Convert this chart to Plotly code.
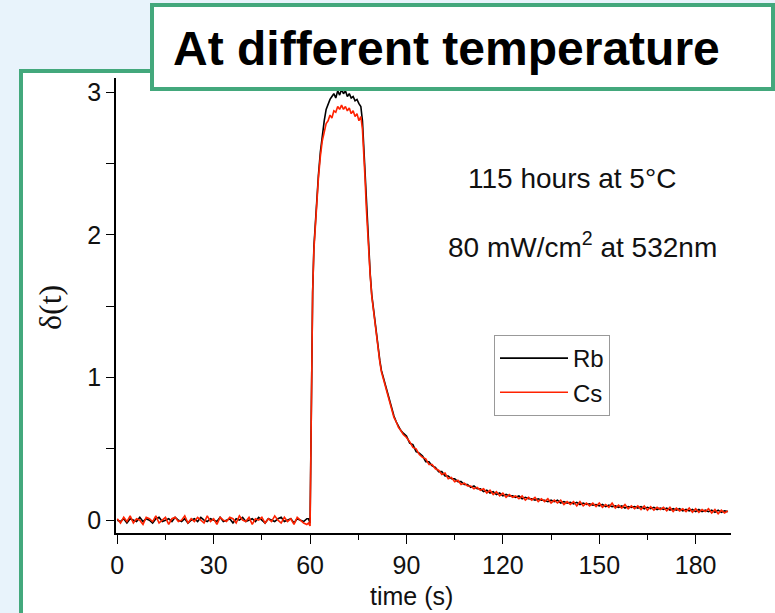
import plotly.graph_objects as go

# ---------------- data ----------------
T_BASE = list(range(0, 60))
RB_BASE = [0.00, -0.01, 0.01, -0.02, 0.01, 0.00, -0.01, 0.02, -0.01, 0.01,
           0.00, -0.02, 0.01, 0.02, -0.01, 0.00, 0.01, -0.01, 0.02, 0.00,
           -0.01, 0.01, -0.02, 0.00, 0.01, -0.01, 0.02, 0.00, -0.01, 0.01,
           0.00, -0.01, 0.02, -0.01, 0.00, 0.01, -0.02, 0.01, 0.00, 0.02,
           -0.01, 0.00, 0.01, -0.01, 0.02, 0.00, -0.02, 0.01, 0.00, -0.01,
           0.01, 0.02, -0.01, 0.00, 0.01, -0.02, 0.01, 0.00, -0.01, 0.01]
CS_BASE = [0.01, -0.02, 0.02, -0.01, 0.03, -0.02, 0.01, 0.00, -0.03, 0.02,
           0.01, -0.01, 0.03, -0.02, 0.00, 0.02, -0.03, 0.01, 0.02, -0.01,
           0.00, 0.03, -0.02, 0.01, -0.01, 0.02, 0.00, -0.02, 0.03, -0.01,
           0.01, -0.03, 0.02, 0.00, -0.01, 0.02, 0.01, -0.02, 0.03, 0.00,
           -0.01, 0.02, -0.03, 0.01, 0.00, 0.02, -0.02, 0.01, -0.01, 0.03,
           0.00, -0.02, 0.02, -0.01, 0.01, -0.03, 0.02, 0.00, -0.02, -0.03]

T_MID = [59.5, 60.0, 60.2, 60.5, 60.8, 61.2, 61.6, 62.0, 62.6, 63.2,
         63.8, 64.4, 65.0, 65.6, 66.2, 66.8, 67.4, 68.0, 68.6, 69.2,
         69.8, 70.4, 71.0, 71.6, 72.2, 72.8, 73.4, 74.0, 74.6, 75.2,
         75.8, 76.3, 76.7, 77.1, 77.5, 77.9, 78.3, 78.7, 79.2, 79.7,
         80.2, 80.7, 81.2, 81.7, 82.2, 82.8, 83.4, 84.0, 84.7, 85.4,
         86.1, 86.8, 87.5, 88.2, 89.0]
RB_MID = [0.01, -0.02, 0.40, 1.20, 1.60, 1.92, 2.08, 2.20, 2.42, 2.58,
          2.70, 2.80, 2.88, 2.92, 2.95, 2.97, 2.99, 2.96, 3.01, 2.98,
          3.02, 2.99, 3.01, 2.97, 2.99, 2.96, 2.97, 2.94, 2.95, 2.92,
          2.90, 2.80, 2.62, 2.40, 2.20, 2.02, 1.87, 1.73, 1.58, 1.48,
          1.38, 1.29, 1.20, 1.12, 1.05, 1.00, 0.95, 0.90, 0.84, 0.78,
          0.73, 0.69, 0.66, 0.63, 0.61]
CS_MID = [-0.02, -0.04, 0.40, 1.20, 1.60, 1.90, 2.06, 2.20, 2.40, 2.55,
          2.66, 2.72, 2.78, 2.80, 2.84, 2.82, 2.87, 2.86, 2.90, 2.88,
          2.91, 2.88, 2.90, 2.87, 2.89, 2.85, 2.87, 2.83, 2.85, 2.80,
          2.83, 2.74, 2.60, 2.40, 2.19, 2.00, 1.86, 1.72, 1.57, 1.47,
          1.37, 1.28, 1.19, 1.11, 1.04, 0.99, 0.94, 0.89, 0.83, 0.77,
          0.72, 0.69, 0.65, 0.63, 0.60]

T_TAIL = list(range(90, 191))
RB_TAIL = [0.59, 0.54, 0.53, 0.48, 0.47, 0.45, 0.41, 0.41, 0.38, 0.37,
           0.34, 0.34, 0.31, 0.31, 0.29, 0.29, 0.27, 0.27, 0.25, 0.25,
           0.23, 0.24, 0.22, 0.22, 0.20, 0.21, 0.19, 0.20, 0.18, 0.19,
           0.17, 0.18, 0.17, 0.17, 0.16, 0.17, 0.15, 0.16, 0.15, 0.15,
           0.14, 0.15, 0.14, 0.14, 0.13, 0.14, 0.13, 0.14, 0.12, 0.13,
           0.12, 0.125, 0.115, 0.125, 0.11, 0.12, 0.11, 0.115, 0.105, 0.11,
           0.10, 0.11, 0.095, 0.105, 0.095, 0.10, 0.09, 0.10, 0.085, 0.095,
           0.09, 0.095, 0.085, 0.095, 0.08, 0.09, 0.08, 0.09, 0.075, 0.085,
           0.075, 0.085, 0.07, 0.08, 0.07, 0.08, 0.065, 0.075, 0.065, 0.075,
           0.06, 0.075, 0.06, 0.07, 0.06, 0.07, 0.055, 0.07, 0.055, 0.065,
           0.06]
CS_TAIL = [0.58, 0.55, 0.51, 0.50, 0.46, 0.44, 0.43, 0.39, 0.39, 0.36,
           0.35, 0.32, 0.33, 0.29, 0.30, 0.27, 0.28, 0.25, 0.26, 0.24,
           0.24, 0.22, 0.23, 0.21, 0.22, 0.19, 0.21, 0.18, 0.20, 0.17,
           0.19, 0.16, 0.18, 0.16, 0.17, 0.15, 0.17, 0.14, 0.16, 0.14,
           0.16, 0.13, 0.15, 0.13, 0.15, 0.12, 0.14, 0.12, 0.14, 0.11,
           0.13, 0.11, 0.13, 0.10, 0.13, 0.10, 0.12, 0.10, 0.12, 0.095,
           0.12, 0.09, 0.11, 0.09, 0.12, 0.085, 0.105, 0.085, 0.11, 0.08,
           0.10, 0.08, 0.10, 0.075, 0.10, 0.07, 0.095, 0.07, 0.09, 0.075,
           0.09, 0.065, 0.09, 0.06, 0.085, 0.065, 0.08, 0.06, 0.085, 0.055,
           0.08, 0.055, 0.075, 0.06, 0.08, 0.05, 0.075, 0.045, 0.07, 0.05,
           0.065]

TIME = T_BASE + T_MID + T_TAIL
RB = RB_BASE + RB_MID + RB_TAIL
CS = CS_BASE + CS_MID + CS_TAIL

SERIES_NAMES = ["Rb", "Cs"]
X_TICKS = [0, 30, 60, 90, 120, 150, 180]
Y_TICKS = [0, 1, 2, 3]

TITLE = "At different temperature"
NOTE1 = "115 hours at 5°C"
NOTE2 = "80 mW/cm<sup>2</sup> at 532nm"
X_TITLE = "time (s)"
Y_TITLE = "δ(t)"

# ---------------- figure ----------------
W, H = 775, 613
L, R, Tm, B = 116, 44, 78, 80
PW, PH = W - L - R, H - Tm - B


def px(x):
    return (x - L) / PW


def py(y):
    return (H - B - y) / PH


FONT = "Liberation Sans, Arial, sans-serif"
GREEN = "#43a87c"
INK = "#111111"

fig = go.Figure()
fig.add_trace(go.Scatter(x=TIME, y=RB, mode="lines", name=SERIES_NAMES[0],
                         line=dict(color="#000000", width=1.6)))
fig.add_trace(go.Scatter(x=TIME, y=CS, mode="lines", name=SERIES_NAMES[1],
                         line=dict(color="#ff2200", width=1.6)))

axis_common = dict(showline=True, linecolor="#000000", linewidth=1.5,
                   ticks="outside", tickcolor="#000000", tickwidth=1.3,
                   showgrid=False, zeroline=False,
                   tickfont=dict(family=FONT, size=25, color=INK))

fig.update_xaxes(range=[-0.4, 191], tickvals=X_TICKS, ticklen=9,
                 minor=dict(dtick=15, tick0=0, ticks="outside", ticklen=5,
                            tickcolor="#000000", tickwidth=1.3, showgrid=False),
                 **axis_common)
fig.update_yaxes(range=[-0.09, 3.1], tickvals=Y_TICKS, ticklen=8,
                 minor=dict(dtick=0.5, tick0=0, ticks="outside", ticklen=8,
                            tickcolor="#000000", tickwidth=1.3, showgrid=False),
                 **axis_common)

shapes = [
    # outer white panel with green border
    dict(type="rect", xref="paper", yref="paper", layer="below",
         x0=px(21), x1=px(778), y0=py(615), y1=py(71),
         fillcolor="#ffffff", line=dict(color=GREEN, width=4)),
    # title box
    dict(type="rect", xref="paper", yref="paper", layer="above",
         x0=px(152), x1=px(773), y0=py(89), y1=py(5),
         fillcolor="#ffffff", line=dict(color=GREEN, width=4)),
]

annotations = [
    dict(text="<b>" + TITLE + "</b>", xref="paper", yref="paper",
         x=px(446), y=py(48), xanchor="center", yanchor="middle",
         showarrow=False, font=dict(family=FONT, size=48, color="#000000")),
    dict(text=NOTE1, xref="paper", yref="paper", x=px(572), y=py(178),
         xanchor="center", yanchor="middle", showarrow=False,
         font=dict(family=FONT, size=28, color=INK)),
    dict(text=NOTE2, xref="paper", yref="paper", x=px(582), y=py(245),
         xanchor="center", yanchor="middle", showarrow=False,
         font=dict(family=FONT, size=28, color=INK)),
    dict(text=X_TITLE, xref="paper", yref="paper", x=px(411), y=py(596),
         xanchor="center", yanchor="middle", showarrow=False,
         font=dict(family=FONT, size=25, color=INK)),
    dict(text=Y_TITLE, xref="paper", yref="paper", x=px(50), y=py(308),
         xanchor="center", yanchor="middle", showarrow=False, textangle=-90,
         font=dict(family="Liberation Serif, Times New Roman, serif",
                   size=32, color=INK)),
]

fig.update_layout(
    width=W, height=H, autosize=False,
    margin=dict(l=L, r=R, t=Tm, b=B, pad=0),
    paper_bgcolor="#e8f3fb", plot_bgcolor="rgba(0,0,0,0)",
    shapes=shapes, annotations=annotations,
    showlegend=True,
    legend=dict(x=px(494), y=py(335), xanchor="left", yanchor="top",
                bgcolor="#ffffff", bordercolor="#999999", borderwidth=1,
                font=dict(family=FONT, size=24, color=INK),
                itemwidth=68, tracegroupgap=0, entrywidth=48),
)

fig.write_html("out.html")
